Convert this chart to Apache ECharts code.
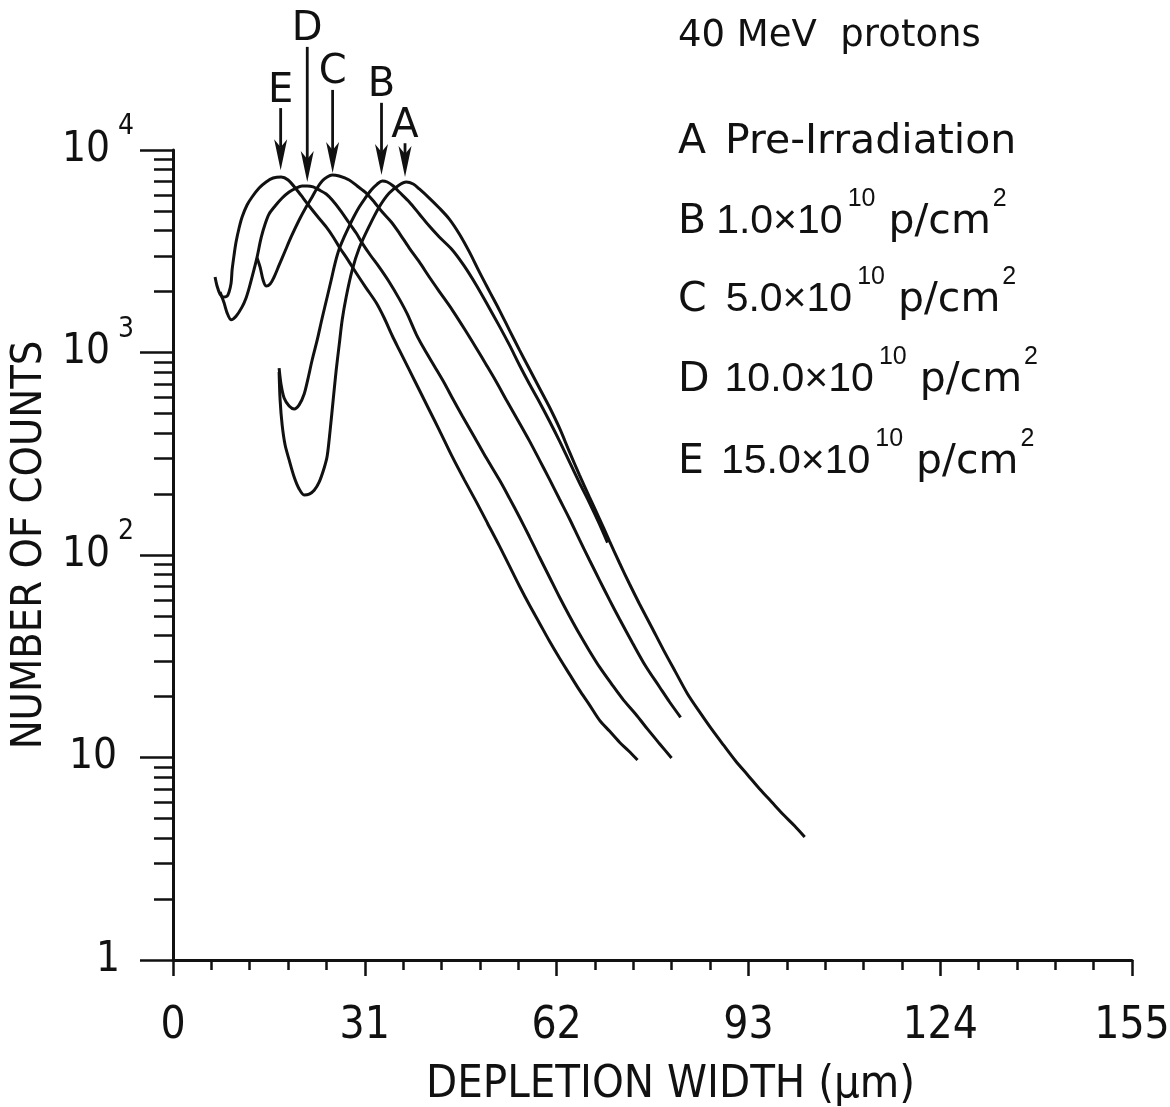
<!DOCTYPE html>
<html>
<head>
<meta charset="utf-8">
<script src="https://cdn.jsdelivr.net/npm/echarts@6/dist/echarts.min.js"></script>
<style>
  html, body { margin: 0; padding: 0; background: #fff; }
  #chart { width: 1170px; height: 1107px; }
</style>
</head>
<body>
<div id="chart"></div>
<script>
// Pulse-height spectra: number of counts versus depletion width (µm)
// for a detector before and after 40 MeV proton irradiation.

// A: pre-irradiation
const widthA = [17.15, 17.31, 17.64, 18.12, 18.77, 19.58, 20.39, 21.20, 22.01, 22.82, 23.62, 24.43, 24.92, 25.40, 25.89, 26.38, 26.86, 27.35, 27.99, 28.96, 30.10, 31.72, 33.33, 34.95, 36.57, 37.70, 38.83, 39.81, 41.42, 43.04, 44.66, 46.28, 47.90, 49.51, 51.13, 52.75, 54.37, 55.99, 57.61, 59.22, 60.84, 62.46, 64.08, 65.70, 67.31, 68.93, 70.55, 72.17, 73.79, 75.40, 77.35, 79.29, 81.23, 83.17, 85.11, 87.06, 88.99, 90.94, 92.88, 94.82, 96.76, 98.71, 100.49, 102.10];
const countsA = [801, 583, 439, 349, 295, 243, 212, 198, 200, 209, 229, 269, 308, 414, 583, 820, 1090, 1450, 1880, 2550, 3280, 4210, 5230, 6130, 6720, 6950, 6790, 6420, 5790, 5170, 4560, 3850, 3140, 2500, 2010, 1620, 1290, 1030, 829, 668, 538, 424, 323, 248, 193, 151, 117, 91.3, 71.9, 57.3, 44.1, 33.9, 26.4, 20.6, 16.8, 13.8, 11.5, 9.61, 8.20, 6.99, 6.03, 5.20, 4.59, 4.05];

// B: 1.0e10 p/cm2
const widthB = [17.15, 17.48, 17.96, 18.77, 19.58, 20.39, 21.20, 21.84, 22.49, 23.30, 24.11, 24.92, 25.57, 26.21, 26.86, 27.67, 28.48, 29.29, 30.10, 31.07, 32.04, 33.01, 33.82, 34.63, 35.60, 36.57, 38.19, 39.81, 41.42, 43.04, 45.15, 47.09, 49.03, 50.65, 52.75, 54.37, 55.99, 57.61, 59.22, 60.84, 62.46, 64.08, 65.70, 67.31, 68.93, 70.23];
const countsB = [838, 691, 596, 544, 526, 551, 624, 748, 918, 1150, 1480, 1880, 2280, 2770, 3240, 3720, 4210, 4720, 5230, 5790, 6350, 6790, 7030, 6950, 6640, 6200, 5540, 4830, 4210, 3720, 3210, 2670, 2150, 1760, 1350, 1090, 868, 699, 570, 459, 366, 288, 227, 181, 142, 115];

// C: 5.0e10 p/cm2
const widthC = [13.59, 14.08, 14.56, 15.05, 15.70, 16.34, 17.15, 18.12, 19.09, 20.39, 21.52, 22.49, 23.30, 24.11, 24.92, 25.73, 26.86, 28.48, 29.77, 31.23, 32.52, 33.82, 35.28, 36.57, 38.19, 39.81, 41.42, 43.20, 45.15, 47.09, 49.03, 50.65, 52.27, 53.88, 55.99, 57.61, 59.22, 60.84, 62.46, 64.08, 65.70, 67.31, 68.93, 70.55, 72.17, 74.27, 76.38, 78.64, 80.26, 82.04];
const countsC = [2930, 2640, 2280, 2130, 2180, 2360, 2700, 3170, 3720, 4510, 5230, 5860, 6490, 7030, 7360, 7530, 7440, 7110, 6640, 6130, 5540, 4940, 4410, 3890, 3280, 2800, 2360, 1970, 1620, 1310, 1050, 868, 715, 583, 449, 366, 295, 237, 189, 151, 119, 94.5, 75.2, 60.0, 48.3, 36.8, 28.3, 22.3, 18.8, 15.8];

// D: 10.0e10 p/cm2
const widthD = [7.61, 8.25, 8.74, 9.39, 10.19, 11.17, 11.81, 12.30, 13.11, 13.59, 14.24, 14.89, 15.53, 16.50, 17.64, 18.77, 19.90, 20.87, 21.68, 22.65, 23.62, 24.76, 25.73, 27.02, 28.48, 29.61, 30.58, 31.88, 33.33, 34.95, 36.57, 37.86, 39.32, 40.61, 42.23, 43.85, 45.15, 46.76, 48.71, 50.65, 52.75, 54.37, 55.99, 57.61, 59.22, 60.84, 62.46, 64.08, 65.70, 67.31, 68.93, 70.87, 72.82, 74.76, 76.70, 78.64, 80.58];
const countsD = [1990, 1760, 1570, 1450, 1510, 1680, 1860, 2080, 2580, 2960, 3680, 4310, 4830, 5290, 5790, 6200, 6490, 6640, 6640, 6570, 6350, 6060, 5660, 5050, 4360, 3890, 3470, 3030, 2640, 2230, 1840, 1550, 1230, 1040, 858, 707, 596, 486, 383, 301, 235, 191, 154, 123, 97.7, 77.9, 62.0, 50.0, 40.7, 33.6, 28.0, 23.1, 19.2, 16.4, 13.8, 11.7, 9.94];

// E: 15.0e10 p/cm2
const widthE = [6.80, 7.12, 7.61, 8.09, 8.74, 9.06, 9.39, 9.55, 9.87, 10.19, 10.68, 11.17, 11.97, 12.78, 13.92, 15.05, 16.18, 17.48, 18.61, 19.90, 21.04, 22.01, 23.30, 24.76, 25.89, 26.86, 28.16, 29.61, 31.23, 32.85, 34.14, 35.44, 36.57, 38.19, 39.81, 41.42, 43.04, 45.15, 47.09, 49.03, 50.81, 52.75, 54.37, 55.99, 57.61, 59.22, 60.84, 62.46, 64.08, 65.70, 67.31, 68.93, 70.55, 72.17, 73.62, 75.08];
const countsE = [2360, 2130, 1940, 1880, 1900, 1990, 2200, 2550, 3030, 3510, 4120, 4670, 5350, 5860, 6490, 6950, 7270, 7360, 7110, 6420, 5790, 5290, 4720, 4170, 3720, 3320, 2900, 2470, 2080, 1760, 1480, 1210, 1030, 820, 653, 520, 414, 305, 235, 183, 144, 111, 88.3, 70.3, 56.6, 46.2, 37.6, 31.0, 25.8, 21.5, 18.2, 15.3, 13.5, 11.9, 10.8, 9.72];

// Peak markers: letter, depletion width, counts at the arrow tail and at its tip
const arrowLetters = ['E', 'D', 'C', 'B', 'A'];
const arrowWidths = [17.4, 21.7, 25.8, 33.7, 37.5];
const arrowTails = [16100, 32300, 19800, 17100, 10800];
const arrowTips = [7950, 6950, 7700, 7530, 7360];

// Axis ticks
const xMin = 0, xMax = 155, xStep = 31;
const yMin = 1, yMax = 10000;

// Key text
const beamNote = '40 MeV  protons';
const fluenceKeys = ['A', 'B', 'C', 'D', 'E'];
const fluenceMantissas = [null, '1.0', '5.0', '10.0', '15.0'];

const AXIS_FONT = "'DejaVu Sans Condensed', 'Liberation Sans Narrow', 'Liberation Sans', sans-serif";
const TEXT_FONT = "'DejaVu Sans', 'Liberation Sans', sans-serif";
const NUM_FONT = "'Liberation Sans', 'DejaVu Sans', sans-serif";
const INK = '#111';

const curves = [
  { name: 'A', w: widthA, c: countsA },
  { name: 'B', w: widthB, c: countsB },
  { name: 'C', w: widthC, c: countsC },
  { name: 'D', w: widthD, c: countsD },
  { name: 'E', w: widthE, c: countsE }
];

// minor ticks of the log axis, at 2..9 of each decade (in decades)
const minorLogTicks = [];
for (let k = 0; k < 4; k++) {
  for (let m = 2; m <= 9; m++) minorLogTicks.push(Math.log10(m * Math.pow(10, k)));
}

const lineSeries = curves.map(cv => ({
  name: cv.name,
  type: 'line',
  xAxisIndex: 0,
  yAxisIndex: 0,
  data: cv.w.map((w, i) => [w, cv.c[i]]),
  showSymbol: false,
  smooth: 0.3,
  lineStyle: { color: INK, width: 3 },
  animation: false,
  z: 3
}));

const arrowSeries = {
  type: 'custom',
  xAxisIndex: 0,
  yAxisIndex: 0,
  clip: false,
  animation: false,
  data: arrowWidths.map((w, i) => [w, arrowTails[i], arrowTips[i]]),
  renderItem: function (params, api) {
    const tail = api.coord([api.value(0), api.value(1)]);
    const tip = api.coord([api.value(0), api.value(2)]);
    const x = tip[0];
    const headLen = 31, headHalf = 6.5, notch = 8;
    return {
      type: 'group',
      children: [
        {
          type: 'line',
          shape: { x1: x, y1: tail[1], x2: x, y2: tip[1] - headLen + notch },
          style: { stroke: INK, lineWidth: 2.8 }
        },
        {
          type: 'polygon',
          shape: {
            points: [[x, tip[1]], [x - headHalf, tip[1] - headLen], [x, tip[1] - headLen + notch], [x + headHalf, tip[1] - headLen]]
          },
          style: { fill: INK }
        },
        {
          type: 'text',
          style: {
            text: arrowLetters[params.dataIndex],
            x: x,
            y: tail[1] + 3,
            align: 'center',
            verticalAlign: 'bottom',
            font: "40px " + TEXT_FONT,
            fill: INK
          }
        }
      ]
    };
  }
};

// gap after each key letter, so the values line up as lettered
const keyGaps = [19, 10, 19, 15, 17];

function keyLine(i) {
  const head = '{k' + i + '|' + fluenceKeys[i] + '}';
  if (!fluenceMantissas[i]) return head + '{l|Pre-Irradiation}';
  return head + '{n|' + fluenceMantissas[i] + '\u00d710}{s|10}{l| p/cm}{t|2}';
}

const keyRich = {
  l: { fontFamily: TEXT_FONT, fontSize: 41, lineHeight: 80, color: INK },
  n: { fontFamily: NUM_FONT, fontSize: 41, lineHeight: 80, color: INK },
  s: { fontFamily: NUM_FONT, fontSize: 25, lineHeight: 50, verticalAlign: 'top', padding: [5, 0, 0, 5], color: INK },
  t: { fontFamily: NUM_FONT, fontSize: 25, lineHeight: 50, verticalAlign: 'top', padding: [5, 0, 0, 2], color: INK }
};
keyGaps.forEach((g, i) => {
  keyRich['k' + i] = { fontFamily: TEXT_FONT, fontSize: 41, lineHeight: 80, padding: [0, g, 0, 0], color: INK };
});

const keyCentres = [142, 222, 300, 380, 462];
const graphics = [
  {
    type: 'text', x: 678, y: 36,
    style: { text: beamNote, font: '37px ' + TEXT_FONT, fill: INK, align: 'left', verticalAlign: 'middle' }
  }
].concat(fluenceKeys.map((k, i) => ({
  type: 'text', x: 678, y: keyCentres[i],
  style: { text: keyLine(i), rich: keyRich, fill: INK, align: 'left', verticalAlign: 'middle', font: '41px ' + TEXT_FONT }
})));

const option = {
  backgroundColor: '#fff',
  animation: false,
  grid: { left: 173, right: 38, top: 150, bottom: 147, outerBoundsMode: 'none', containLabel: false },
  xAxis: {
    type: 'value', min: xMin, max: xMax, interval: xStep,
    axisLine: { show: true, lineStyle: { color: INK, width: 3 } },
    axisTick: { show: true, inside: false, length: 16, lineStyle: { color: INK, width: 2.5 } },
    minorTick: { show: true, splitNumber: 5, length: 10, lineStyle: { color: INK, width: 2.5 } },
    splitLine: { show: false },
    axisLabel: { color: INK, fontFamily: AXIS_FONT, fontSize: 44, lineHeight: 44, margin: 45 },
    name: 'DEPLETION WIDTH (\u03bcm)',
    nameLocation: 'middle',
    nameGap: 103,
    nameTextStyle: { color: INK, fontFamily: AXIS_FONT, fontSize: 45, padding: [0, 0, 0, 36] }
  },
  yAxis: [
    {
      type: 'log', logBase: 10, min: yMin, max: yMax,
      axisLine: { show: true, lineStyle: { color: INK, width: 3 } },
      axisTick: { show: true, inside: false, length: 33, lineStyle: { color: INK, width: 2.5 } },
      splitLine: { show: false },
      axisLabel: {
        margin: 39,
        formatter: function (v) {
          const e = Math.round(Math.log10(v));
          if (e === 0) return '{one|1}';
          if (e === 1) return '{ten|10}';
          return '{b|10}{s|' + e + '}';
        },
        rich: {
          b: { fontFamily: AXIS_FONT, fontSize: 42, lineHeight: 90, color: INK },
          s: { fontFamily: AXIS_FONT, fontSize: 28, lineHeight: 40, verticalAlign: 'top', padding: [8, 0, 0, 8], color: INK },
          one: { fontFamily: AXIS_FONT, fontSize: 42, lineHeight: 90, padding: [0, 14, 0, 0], color: INK },
          ten: { fontFamily: AXIS_FONT, fontSize: 42, lineHeight: 90, padding: [0, 17, 0, 0], color: INK }
        }
      },
      name: 'NUMBER OF COUNTS',
      nameLocation: 'middle',
      nameGap: 115,
      nameTextStyle: { color: INK, fontFamily: AXIS_FONT, fontSize: 43, padding: [0, 0, 0, 20] }
    },
    {
      // decade subdivisions (2..9) drawn as short ticks on the same left edge
      type: 'value', min: 0, max: 4, position: 'left',
      axisLine: { show: false },
      axisLabel: { show: false },
      splitLine: { show: false },
      axisTick: { show: true, inside: false, length: 19, customValues: minorLogTicks, lineStyle: { color: INK, width: 2.5 } }
    }
  ],
  series: lineSeries.concat([arrowSeries]),
  graphic: graphics
};

const chart = echarts.init(document.getElementById('chart'));
chart.setOption(option);
</script>
</body>
</html>
